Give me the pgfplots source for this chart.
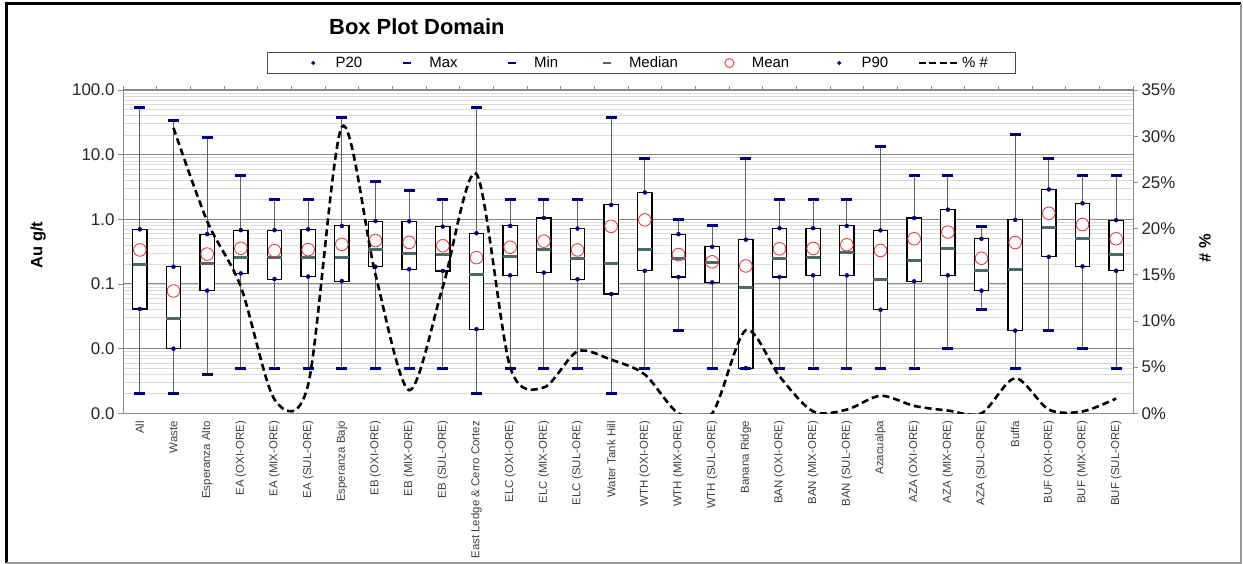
\documentclass[border=0pt]{standalone}
\usepackage{pgfplots}
\usepackage{pgfplotstable}
\pgfplotsset{compat=1.18}
\usepackage{fontspec}
\setmainfont{Liberation Sans}
\definecolor{navyc}{RGB}{0,0,128}
\definecolor{medc}{RGB}{75,105,105}
\definecolor{meanc}{RGB}{232,62,62}
\definecolor{majg}{RGB}{135,135,135}
\definecolor{ming}{RGB}{218,218,218}
\definecolor{axg}{RGB}{140,140,140}
\definecolor{whg}{RGB}{95,95,95}

\pgfplotsset{
  whisk/.style={whg, line width=0.8bp, no markers},
  boxst/.style={draw=black, line width=1.1bp, fill=white, no markers},
}

\pgfplotstableread{
x min p20 median mean p90 max pct
0 0.002 0.041 0.197 0.336 0.70 54 nan
1 0.002 0.010 0.029 0.078 0.185 33.6 30.9
2 0.004 0.079 0.21 0.29 0.59 18.3 20.8
3 0.005 0.146 0.26 0.356 0.68 4.8 13.7
4 0.005 0.119 0.26 0.327 0.68 2.0 1.5
5 0.005 0.13 0.26 0.34 0.70 2.0 3.1
6 0.005 0.111 0.26 0.41 0.79 38 31.0
7 0.005 0.185 0.336 0.47 0.94 3.82 15.0
8 0.005 0.169 0.30 0.44 0.93 2.84 2.5
9 0.005 0.159 0.29 0.39 0.77 2.0 13.7
10 0.002 0.020 0.138 0.255 0.61 54 25.9
11 0.005 0.136 0.265 0.37 0.79 2.0 5.0
12 0.005 0.15 0.34 0.46 1.05 2.0 2.8
13 0.005 0.118 0.25 0.336 0.72 2.0 6.7
14 0.002 0.070 0.21 0.78 1.67 38 5.8
15 0.005 0.16 0.338 0.98 2.6 8.6 4.2
16 0.019 0.128 0.245 0.285 0.59 0.98 0
17 0.005 0.106 0.212 0.22 0.375 0.79 0
18 0.005 0.005 0.089 0.19 0.485 8.8 9.0
19 0.005 0.128 0.25 0.35 0.73 2.0 4.0
20 0.005 0.136 0.255 0.355 0.73 2.0 0.2
21 0.005 0.136 0.305 0.405 0.79 2.0 0.4
22 0.005 0.040 0.118 0.33 0.675 13.3 1.9
23 0.005 0.11 0.23 0.50 1.05 4.8 0.8
24 0.01 0.136 0.35 0.635 1.41 4.8 0.3
25 0.04 0.079 0.162 0.25 0.50 0.78 0
26 0.005 0.019 0.169 0.437 0.98 20.3 3.8
27 0.019 0.263 0.76 1.24 2.9 8.6 0.4
28 0.01 0.187 0.505 0.83 1.77 4.8 0.2
29 0.005 0.16 0.285 0.50 0.97 4.8 1.6
}\boxdata

\begin{document}
\begin{tikzpicture}
\useasboundingbox (0,0) rectangle (1243bp,564bp);
\fill[white] (0,0) rectangle (1243bp,564bp);
\begin{axis}[
  at={(123bp,150.7bp)}, anchor=south west,
  width=1010bp, height=323.3bp, scale only axis,
  xmin=-0.5, xmax=29.5,
  ymode=log, ymin=0.001, ymax=100,
  ytick={0.001,0.01,0.1,1,10,100},
  yticklabels={0.0,0.0,0.1,1.0,10.0,100.0},
  ymajorgrids, yminorgrids,
  major grid style={majg, line width=1bp},
  minor grid style={ming, line width=0.8bp},
  ytick pos=left,
  xtick={0,...,29},
  xticklabels={{All},{Waste},{Esperanza Alto},{EA (OXI-ORE)},{EA (MIX-ORE)},{EA (SUL-ORE)},{Esperanza Bajo},{EB (OXI-ORE)},{EB (MIX-ORE)},{EB (SUL-ORE)},{East Ledge \& Cerro Cortez},{ELC (OXI-ORE)},{ELC (MIX-ORE)},{ELC (SUL-ORE)},{Water Tank Hill},{WTH (OXI-ORE)},{WTH (MIX-ORE)},{WTH (SUL-ORE)},{Banana Ridge},{BAN (OXI-ORE)},{BAN (MIX-ORE)},{BAN (SUL-ORE)},{Azacualpa},{AZA (OXI-ORE)},{AZA (MIX-ORE)},{AZA (SUL-ORE)},{Buffa},{BUF (OXI-ORE)},{BUF (MIX-ORE)},{BUF (SUL-ORE)}},
  xtick pos=right, xticklabel pos=left,
  minor xtick={-0.5,0.5,...,29.5},
  major x tick style={draw=none},
  minor x tick style={axg, line width=0.8bp},
  minor y tick style={draw=none},
  major y tick style={axg, line width=0.8bp},
  tick align=outside,
  major tick length=5bp, minor tick length=4bp,
  axis line style={axg, line width=0.8bp},
  x tick label style={rotate=90, anchor=east, font=\fontsize{11.5}{12}\selectfont, text=black!75, inner sep=2.5bp},
  y tick label style={font=\fontsize{17}{18}\selectfont, text=black!85},
  ylabel={Au g/t},
  ylabel style={at={(axis description cs:-0.084,0.521)}, anchor=center, font=\bfseries\fontsize{16.5}{18}\selectfont},
  title={Box Plot Domain},
  title style={at={(axis description cs:0.291,1.176)}, anchor=center, font=\bfseries\fontsize{22}{24}\selectfont},
  legend columns=7,
  legend cell align=left,
  legend style={at={(0.5134,1.0835)}, anchor=center, draw=black!70, line width=0.8bp, fill=white,
    font=\fontsize{15}{16}\selectfont, inner xsep=25bp, inner ysep=1.5bp,
    nodes={inner xsep=2bp, inner ysep=2.5bp},
    /tikz/every even column/.append style={column sep=0bp}},
  legend image code/.code={\path (0bp,0bp) (40bp,0bp); \draw[#1] plot coordinates {(20bp,0bp)};},
]
\pgfplotsinvokeforeach{0,...,29}{
  \pgfplotstablegetelem{#1}{min}\of\boxdata \let\vmin\pgfplotsretval
  \pgfplotstablegetelem{#1}{max}\of\boxdata \let\vmax\pgfplotsretval
  \pgfplotstablegetelem{#1}{p20}\of\boxdata \let\vlo\pgfplotsretval
  \pgfplotstablegetelem{#1}{p90}\of\boxdata \let\vhi\pgfplotsretval
  \pgfmathsetmacro\xl{#1-0.213}
  \pgfmathsetmacro\xr{#1+0.213}
  \edef\doplot{\noexpand\addplot[whisk, forget plot] coordinates {(#1,\vmin) (#1,\vmax)};
    \noexpand\addplot[boxst, forget plot] coordinates {(\xl,\vlo) (\xr,\vlo) (\xr,\vhi) (\xl,\vhi)} -- cycle;}
  \doplot
}
\addplot[only marks, mark=*, mark size=2bp, navyc, forget plot] table[x=x,y=p20]{\boxdata};
\addplot[only marks, mark=-, mark size=5.5bp, navyc, mark options={line width=3bp}, forget plot] table[x=x,y=max]{\boxdata};
\addplot[only marks, mark=-, mark size=5.5bp, navyc, mark options={line width=3bp}, forget plot] table[x=x,y=min]{\boxdata};
\addplot[only marks, mark=-, mark size=7.2bp, medc, mark options={line width=3bp}, forget plot] table[x=x,y=median]{\boxdata};
\addplot[only marks, mark=o, mark size=6.3bp, meanc, mark options={line width=0.9bp}, forget plot] table[x=x,y=mean]{\boxdata};
\addplot[only marks, mark=*, mark size=2bp, navyc, forget plot] table[x=x,y=p90]{\boxdata};

\addlegendimage{mark=*, navyc, mark size=1.6bp}
\addlegendentry{\makebox[49bp][l]{P20}}
\addlegendimage{mark=-, navyc, mark size=4bp, mark options={line width=2.8bp}}
\addlegendentry{\makebox[60bp][l]{Max}}
\addlegendimage{mark=-, navyc, mark size=4bp, mark options={line width=2.8bp}}
\addlegendentry{\makebox[50bp][l]{Min}}
\addlegendimage{mark=-, medc, mark size=4bp, mark options={line width=2.8bp}}
\addlegendentry{\makebox[78bp][l]{Median}}
\addlegendimage{mark=o, meanc, mark size=4.5bp, mark options={line width=0.9bp}}
\addlegendentry{\makebox[65bp][l]{Mean}}
\addlegendimage{mark=*, navyc, mark size=1.6bp}
\addlegendentry{\makebox[54bp][l]{P90}}
\addlegendimage{legend image code/.code={\draw[black, line width=2.6bp, dash pattern=on 7bp off 3.5bp] (0bp,0bp) -- (40bp,0bp);}}
\addlegendentry{\makebox[26bp][l]{\% \#}}
\end{axis}

\begin{axis}[
  at={(123bp,150.7bp)}, anchor=south west,
  width=1010bp, height=323.3bp, scale only axis,
  xmin=-0.5, xmax=29.5, ymin=0, ymax=35,
  axis x line=none,
  axis y line*=right,
  ytick={0,5,...,35},
  yticklabels={0\%,5\%,10\%,15\%,20\%,25\%,30\%,35\%},
  tick align=outside, major tick length=5bp,
  y tick style={axg, line width=0.8bp},
  axis line style={axg, line width=0.8bp},
  y tick label style={font=\fontsize{17}{18}\selectfont, text=black!85},
  ylabel={\# \%},
  ylabel style={at={(axis description cs:1.0713,0.511)}, anchor=center, font=\bfseries\fontsize{16.5}{18}\selectfont},
]
\addplot[black, line width=2.6bp, dash pattern=on 7bp off 4bp, smooth, tension=0.5, no markers] table[x=x, y=pct]{\boxdata};
\end{axis}

\draw[black, line width=3bp] (6.5bp,1bp) -- (6.5bp,560bp) -- (1241bp,560bp);
\draw[black!40, line width=1.5bp] (6.5bp,1bp) -- (1241bp,1bp) -- (1241bp,560bp);
\end{tikzpicture}
\end{document}
